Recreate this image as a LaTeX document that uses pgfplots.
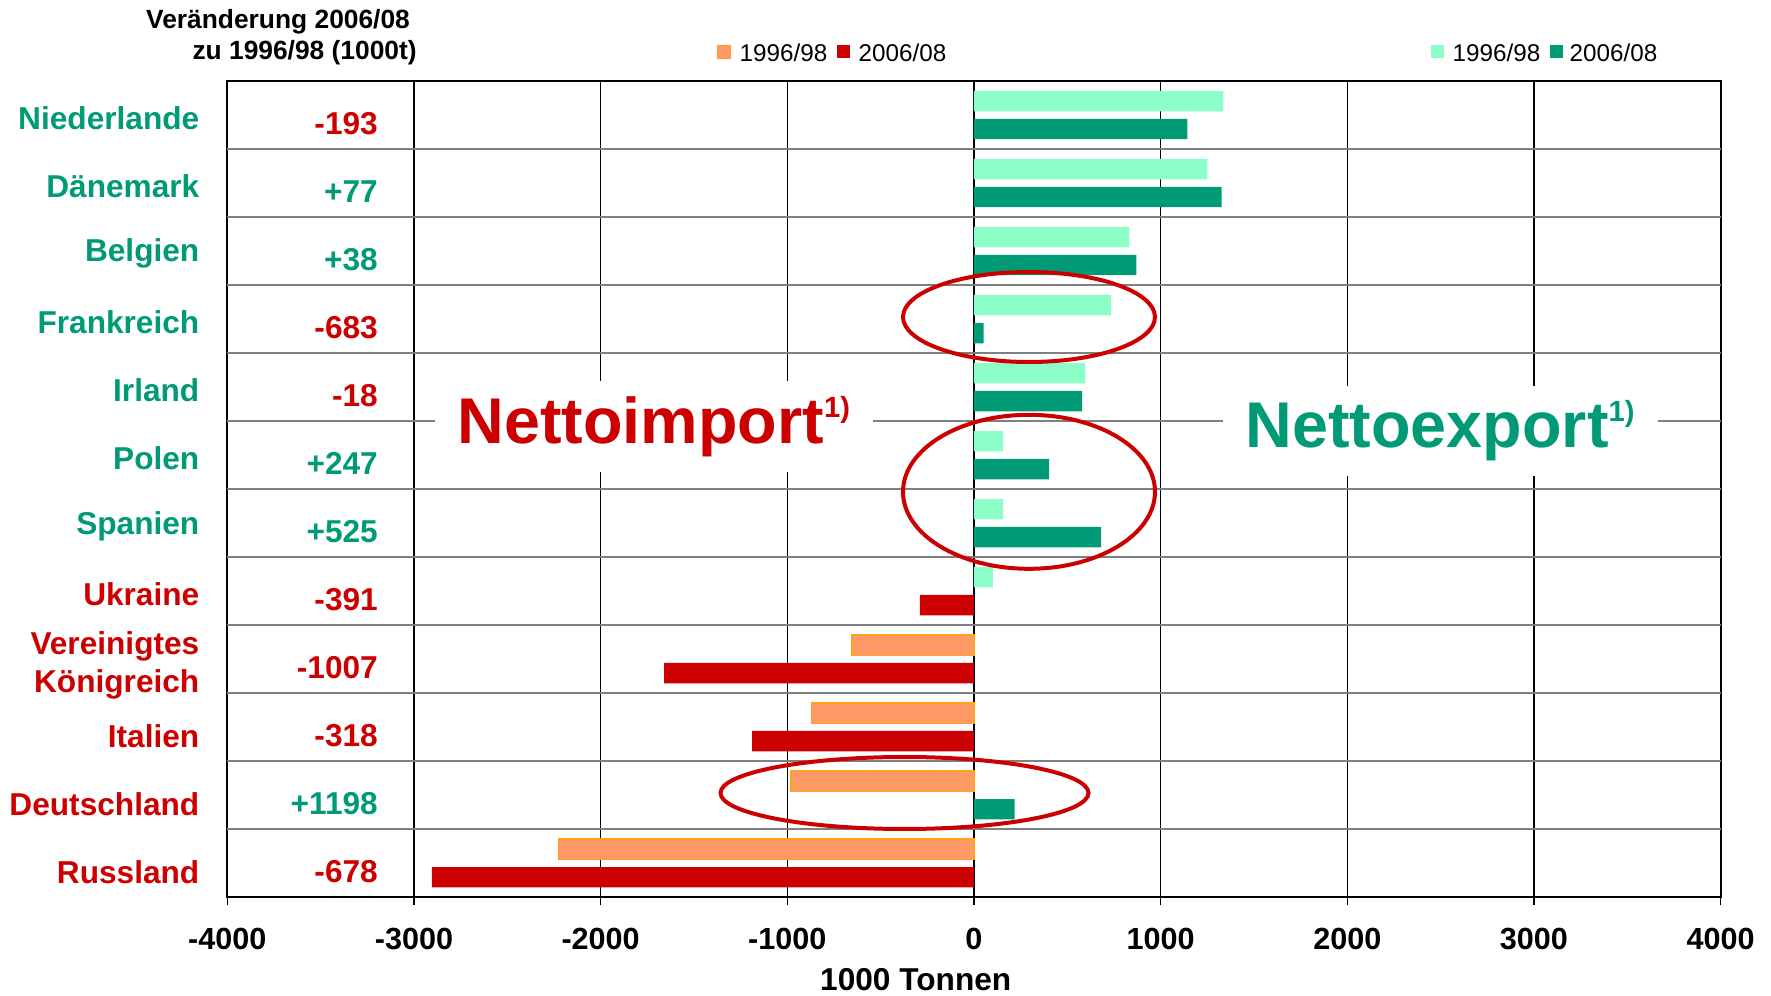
\documentclass[border=0pt]{standalone}
\usepackage{pgfplots}
\pgfplotsset{compat=1.18}
\usepackage{fontspec}
\setmainfont{Liberation Sans}
\definecolor{mint}{HTML}{8CFFC8}
\definecolor{dgreen}{HTML}{009B76}
\definecolor{dred}{HTML}{CC0000}
\definecolor{orng}{HTML}{FF9966}
\definecolor{orngB}{HTML}{FFA21A}
\newcommand{\lab}{\fontsize{9pt}{11pt}\selectfont\bfseries}
\newcommand{\low}[1]{\raisebox{0pt}[10.1pt][0pt]{#1}}
\begin{document}
\begin{tikzpicture}
\path[use as bounding box] (0,0) rectangle (177.1mm,99.5mm);
\begin{axis}[
  at={(22.73mm,9.77mm)}, anchor=south west,
  scale only axis, width=149.34mm, height=81.63mm,
  xmin=-4000, xmax=4000, ymin=-0.5, ymax=11.5, y dir=reverse,
  xtick={-4000,-3000,-2000,-1000,0,1000,2000,3000,4000},
  xticklabels={-4000,-3000,-2000,-1000,0,1000,2000,3000,4000},
  xticklabel style={font=\fontsize{8.7pt}{10pt}\selectfont\bfseries, yshift=-1.0mm},
  ytick={0,1,2,3,4,5,6,7,8,9,10,11},
  yticklabels={
    {\textcolor{dgreen}{Niederlande}},
    {\textcolor{dgreen}{Dänemark}},
    {\textcolor{dgreen}{Belgien}},
    {\textcolor{dgreen}{Frankreich}},
    {\textcolor{dgreen}{Irland}},
    {\textcolor{dgreen}{Polen}},
    {\textcolor{dgreen}{Spanien}},
    {\textcolor{dred}{Ukraine}},
    {\textcolor{dred}{\raisebox{0pt}[8.5pt][0pt]{Vereinigtes}}\\\textcolor{dred}{Königreich}},
    {\textcolor{dred}{\low{Italien}}},
    {\textcolor{dred}{\low{Deutschland}}},
    {\textcolor{dred}{\low{Russland}}}},
  yticklabel style={align=right, font=\lab, inner sep=0pt, xshift=-1.93mm, yshift=-0.28mm},
  ytick style={draw=none},
  tick align=outside, tick pos=left,
  major tick length=0.8mm,
  xtick style={black, line width=0.15mm},
  xmajorgrids, major grid style={black, line width=0.12mm},
  extra y ticks={0.5,1.5,2.5,3.5,4.5,5.5,6.5,7.5,8.5,9.5,10.5},
  extra y tick labels={},
  extra y tick style={grid=major, major grid style={gray, line width=0.22mm}, major tick length=0pt},
  axis line style={black, line width=0.18mm},
  xlabel={1000 Tonnen},
  xlabel style={at={(axis description cs:0.461,0)}, anchor=base, inner sep=0pt, yshift=-9.27mm, font=\lab},
  clip=false,
]
\addplot[xbar, bar width=0.3, bar shift=-0.205, fill=mint, draw=none]
  coordinates {(1336,0) (1250,1) (832,2) (735,3) (597,4) (156,5) (156,6) (101,7)};
\addplot[xbar, bar width=0.3, bar shift=-0.205, fill=orng, draw=orngB, line width=0.15mm]
  coordinates {(-653,8) (-870,9) (-980,10) (-2226,11)};
\addplot[xbar, bar width=0.3, bar shift=0.205, fill=dgreen, draw=none]
  coordinates {(1143,0) (1327,1) (870,2) (52,3) (579,4) (403,5) (681,6) (218,10)};
\addplot[xbar, bar width=0.3, bar shift=0.205, fill=dred, draw=none]
  coordinates {(-290,7) (-1660,8) (-1188,9) (-2904,11)};
\node[anchor=base east, inner sep=0pt, font=\lab, text=dred] at (axis cs:-3190,0.284) {-193};
\node[anchor=base east, inner sep=0pt, font=\lab, text=dgreen] at (axis cs:-3190,1.284) {+77};
\node[anchor=base east, inner sep=0pt, font=\lab, text=dgreen] at (axis cs:-3190,2.284) {+38};
\node[anchor=base east, inner sep=0pt, font=\lab, text=dred] at (axis cs:-3190,3.284) {-683};
\node[anchor=base east, inner sep=0pt, font=\lab, text=dred] at (axis cs:-3190,4.284) {-18};
\node[anchor=base east, inner sep=0pt, font=\lab, text=dgreen] at (axis cs:-3190,5.284) {+247};
\node[anchor=base east, inner sep=0pt, font=\lab, text=dgreen] at (axis cs:-3190,6.284) {+525};
\node[anchor=base east, inner sep=0pt, font=\lab, text=dred] at (axis cs:-3190,7.284) {-391};
\node[anchor=base east, inner sep=0pt, font=\lab, text=dred] at (axis cs:-3190,8.284) {-1007};
\node[anchor=base east, inner sep=0pt, font=\lab, text=dred] at (axis cs:-3190,9.284) {-318};
\node[anchor=base east, inner sep=0pt, font=\lab, text=dgreen] at (axis cs:-3190,10.284) {+1198};
\node[anchor=base east, inner sep=0pt, font=\lab, text=dred] at (axis cs:-3190,11.284) {-678};
\end{axis}
% big labels
\node[anchor=base west, fill=white, inner xsep=2.3mm, inner ysep=1.5mm, text=dred,
  font=\fontsize{18.4pt}{20pt}\selectfont\bfseries] at (43.4mm,55.17mm)
  {Nettoimport\raisebox{7.3pt}{\fontsize{8.3pt}{8pt}\selectfont 1)}};
\node[anchor=base west, fill=white, inner xsep=2.3mm, inner ysep=1.5mm, text=dgreen,
  font=\fontsize{18.4pt}{20pt}\selectfont\bfseries] at (122.2mm,54.77mm)
  {Nettoexport\raisebox{7.3pt}{\fontsize{8.3pt}{8pt}\selectfont 1)}};
% ellipses
\draw[dred, line width=0.4mm] (102.9mm,67.8mm) ellipse [x radius=12.6mm, y radius=4.5mm];
\draw[dred, line width=0.4mm] (102.9mm,50.32mm) ellipse [x radius=12.6mm, y radius=7.7mm];
\draw[dred, line width=0.4mm] (90.45mm,20.2mm) ellipse [x radius=18.4mm, y radius=3.6mm];
% header
\node[anchor=base east, inner sep=0pt, font=\fontsize{7.5pt}{9pt}\selectfont\bfseries] at (41.06mm,96.67mm) {Veränderung 2006/08};
\node[anchor=base east, inner sep=0pt, font=\fontsize{7.5pt}{9pt}\selectfont\bfseries] at (41.74mm,93.5mm) {zu 1996/98 (1000t)};
% legends
\filldraw[fill=orng, draw=orngB, line width=0.15mm] (71.75mm,93.65mm) rectangle ++(1.3mm,1.3mm);
\node[anchor=base west, inner sep=0pt, font=\fontsize{6.9pt}{8pt}\selectfont] at (73.9mm,93.3mm) {1996/98};
\fill[dred] (83.65mm,93.65mm) rectangle ++(1.3mm,1.3mm);
\node[anchor=base west, inner sep=0pt, font=\fontsize{6.9pt}{8pt}\selectfont] at (85.8mm,93.3mm) {2006/08};
\fill[mint] (143.05mm,93.65mm) rectangle ++(1.3mm,1.3mm);
\node[anchor=base west, inner sep=0pt, font=\fontsize{6.9pt}{8pt}\selectfont] at (145.2mm,93.3mm) {1996/98};
\fill[dgreen] (154.95mm,93.65mm) rectangle ++(1.3mm,1.3mm);
\node[anchor=base west, inner sep=0pt, font=\fontsize{6.9pt}{8pt}\selectfont] at (156.9mm,93.3mm) {2006/08};
\end{tikzpicture}
\end{document}
